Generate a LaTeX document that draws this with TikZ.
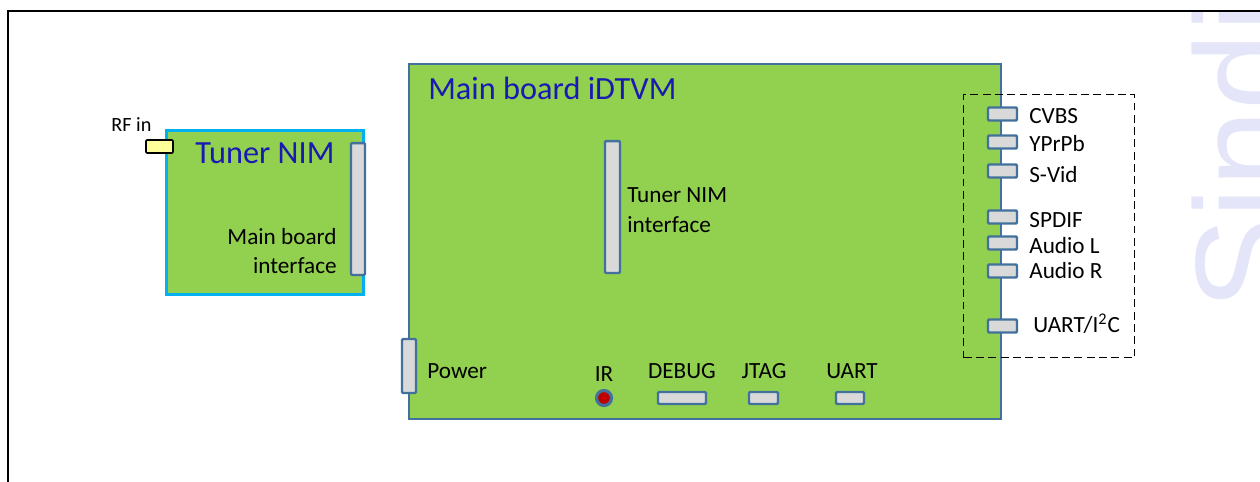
\documentclass[tikz,border=0pt]{standalone}
\usepackage{fontspec}
\setmainfont{Carlito}
\newfontfamily\wmfont{Liberation Sans}
\usetikzlibrary{positioning}

\definecolor{boardgreen}{HTML}{92D050}
\definecolor{portblue}{HTML}{41719C}
\definecolor{portgray}{HTML}{D9D9D9}
\definecolor{tunercyan}{HTML}{00B0F0}
\definecolor{titleblue}{RGB}{25,25,180}
\definecolor{irred}{HTML}{C00000}
\definecolor{rfyellow}{HTML}{FFFF99}
\definecolor{wmlavender}{RGB}{229,229,250}

\begin{document}
\begin{tikzpicture}[x=0.02cm,y=-0.02cm]

  % --- styles ---
  \tikzset{
    % green boards
    mainboard/.style={
      draw=portblue,
      line width=1.4pt,
      fill=boardgreen,
      anchor=north west,
      inner sep=0pt
    },
    tunerboard/.style={
      mainboard,
      draw=tunercyan,
      line width=1.6pt
    },
    % grey connectors with blue frame
    port/.style={
      draw=portblue,
      line width=1.4pt,
      fill=portgray,
      inner sep=0pt,
      rounded corners=0.6pt
    },
    hport/.style={port, minimum width=0.58cm, minimum height=0.26cm},
    % texts
    lbl/.style={font=\fontsize{13.2}{17}\selectfont, inner sep=0pt, text=black},
    title/.style={font=\fontsize{18.4}{21}\selectfont, inner sep=0pt, text=titleblue},
    dashbox/.style={
      draw=black,
      line width=0.8pt,
      dash pattern=on 4.5pt off 2.5pt,
      anchor=north west,
      inner sep=0pt
    },
    frame/.style={draw=black, line width=1.2pt}
  }

  % --- picture size ---
  \useasboundingbox (0,0) rectangle (1260,481);
  \clip (0,0) rectangle (1260,481);

  % --- watermark at the right edge ---
  \node[rotate=90, anchor=base west, inner sep=0pt, text=wmlavender,
        font=\wmfont\fontsize{79}{80}\selectfont] (wm) at (1292,311) {Sindi};

  % --- outer frame (only top and left edge visible) ---
  \draw[frame] (8,560) -- (8,11) -- (1340,11);

  % --- tuner NIM board ---
  \node[tunerboard, minimum width=3.94cm, minimum height=3.28cm] (tuner) at (165,129) {};
  \node[port, fill=rfyellow, draw=black, line width=0.9pt,
        minimum width=0.54cm, minimum height=0.26cm] (rfin) at (159.5,146.5) {};
  \node[lbl, font=\fontsize{11.5}{14}\selectfont, anchor=base west] (rfinlbl) at (111,131) {RF in};
  \node[title, anchor=base west] (tunertitle) at (195,163) {Tuner NIM};
  \node[port, minimum width=0.28cm, minimum height=2.64cm] (mbif) at (358,209) {};
  \node[lbl, align=right, anchor=east] (mbiflbl) at (337,251) {Main board\hspace{4pt}\\interface};

  % --- main board ---
  \node[mainboard, minimum width=11.84cm, minimum height=7.1cm] (main) at (408,63) {};
  \node[title, anchor=base west] (maintitle) at (428,99) {Main board iDTVM};

  % tuner interface on the main board
  \node[port, minimum width=0.3cm, minimum height=2.64cm] (nimif) at (612.5,207) {};
  \node[lbl, align=left, anchor=west] (nimiflbl) at (627,210) {Tuner NIM\\interface};

  % bottom edge connectors
  \node[port, minimum width=0.28cm, minimum height=1.08cm] (power) at (409,366) {};
  \node[lbl, anchor=base west] (powerlbl) at (427,378) {Power};

  \node[circle, draw=portblue, line width=1.8pt, fill=irred,
        minimum size=0.3cm, inner sep=0pt] (ir) at (604,398) {};
  \node[lbl, anchor=base] (irlbl) at (604,381) {IR};

  \node[port, minimum width=0.96cm, minimum height=0.24cm] (debug) at (682,398) {};
  \node[lbl, anchor=base] (debuglbl) at (682,378) {DEBUG};

  \node[port, minimum width=0.58cm, minimum height=0.24cm] (jtag) at (763.5,398) {};
  \node[lbl, anchor=base] (jtaglbl) at (764,378) {JTAG};

  \node[port, minimum width=0.56cm, minimum height=0.24cm] (uart) at (850,398) {};
  \node[lbl, anchor=base] (uartlbl) at (852,378) {UART};

  % --- right edge A/V connectors ---
  \node[dashbox, minimum width=3.42cm, minimum height=5.26cm] (avbox) at (963,94) {};

  \node[hport] (cvbs) at (1002.5,114) {};
  \node[hport] (ypbpr) at (1002.5,142) {};
  \node[hport] (svid) at (1002.5,171) {};
  \node[hport] (spdif) at (1002.5,217) {};
  \node[hport] (audiol) at (1002.5,243) {};
  \node[hport] (audior) at (1002.5,271) {};
  \node[hport] (uarti2c) at (1002.5,326) {};

  \node[lbl, anchor=base west] (cvbslbl) at (1029,123) {CVBS};
  \node[lbl, anchor=base west] (ypbprlbl) at (1029,151) {YPrPb};
  \node[lbl, anchor=base west] (svidlbl) at (1029,182) {S-Vid};
  \node[lbl, anchor=base west] (spdiflbl) at (1029,227) {SPDIF};
  \node[lbl, anchor=base west] (audiollbl) at (1029,253) {Audio L};
  \node[lbl, anchor=base west] (audiorlbl) at (1029,278) {Audio R};
  \node[lbl, anchor=base west] (uarti2clbl) at (1033,332) {UART/I\textsuperscript{2}C};

\end{tikzpicture}
\end{document}
